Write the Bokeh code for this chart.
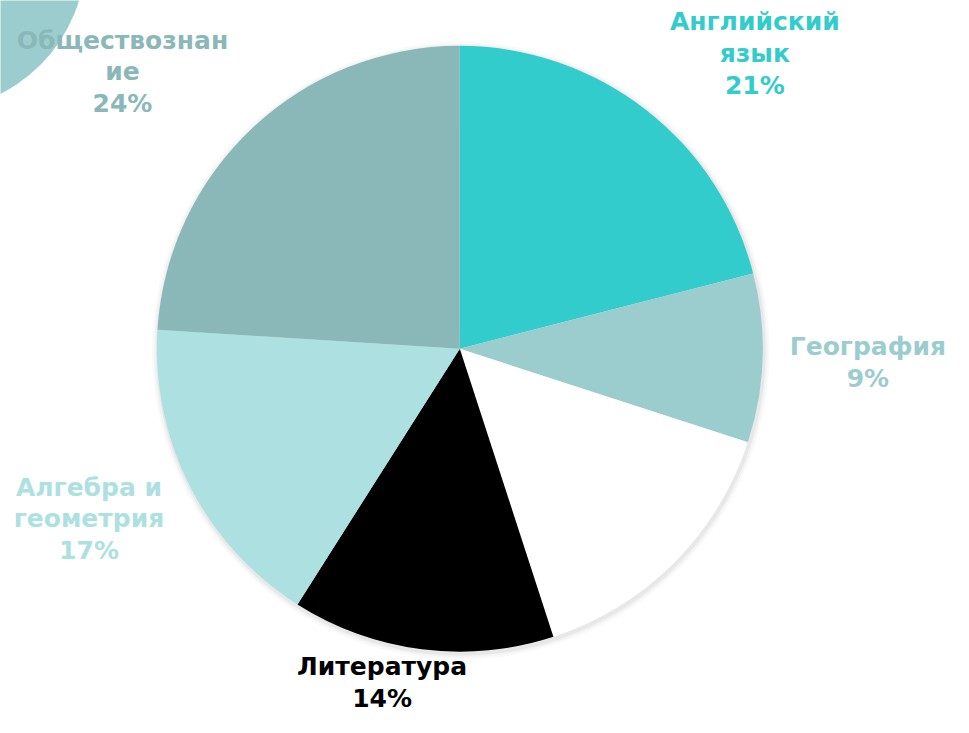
import numpy as np
from bokeh.plotting import figure
from bokeh.models import Range1d, ColumnDataSource
from bokeh.core.properties import value
from bokeh.embed import file_html
from bokeh.resources import INLINE

# data (clockwise from 12 o'clock)
subjects = ["Английский язык", "География", "", "Литература", "Алгебра и геометрия", "Обществознание"]
shares = [21, 9, 15, 14, 17, 24]
colors = ["#33CCCC", "#9CCDCE", "#FFFFFF", "#000000", "#ADE1E1", "#8AB8B8"]
label_texts = ["Английский\nязык\n21%", "География\n9%", "", "Литература\n14%", "Алгебра и\nгеометрия\n17%", "Обществознан\nие\n24%"]
label_colors = ["#33CCCC", "#9CCDCE", "#FFFFFF", "#000000", "#ADE1E1", "#8AB8B8"]
# label centres in reference pixels
label_x = [767, 882, 0, 388, 90, 124]
label_y = [54, 370, 0, 697, 530, 73]

W, H = 953, 717
RW, RH = 969, 733
cx, cy_px, R = 467, 356, 308

p = figure(width=W, height=H, output_backend="svg", toolbar_location=None,
           x_range=Range1d(0, RW), y_range=Range1d(0, RH),
           min_border=0, background_fill_color="white", border_fill_color="white")
p.axis.visible = False
p.grid.visible = False
p.outline_line_color = None

# decorative circle top-left
p.circle(x=[-72], y=[RH + 47], radius=159, fill_color="#9CCDCE", line_color=None)

cy = RH - cy_px
# soft shadow
for r, a in [(R + 6, 0.04), (R + 4, 0.06), (R + 2, 0.1)]:
    p.circle(x=[cx + 1], y=[cy - 2], radius=r, fill_color="#888888", fill_alpha=a, line_color=None)

vals = np.array(shares, dtype=float)
frac = vals / vals.sum()
cum = np.concatenate([[0], np.cumsum(frac)])
start = np.deg2rad(90 - cum[:-1] * 360)
end = np.deg2rad(90 - cum[1:] * 360)
src = ColumnDataSource(dict(start=start, end=end, color=colors))
p.wedge(x=cx, y=cy, radius=R, start_angle="start", end_angle="end", direction="clock",
        fill_color="color", line_color=None, source=src)

lx, ly, lt, lc = [], [], [], []
for x, y, t, c in zip(label_x, label_y, label_texts, label_colors):
    if t:
        lx.append(x); ly.append(RH - y); lt.append(t); lc.append(c)
lsrc = ColumnDataSource(dict(x=lx, y=ly, text=lt, color=lc))
p.text(x="x", y="y", text="text", text_color="color", source=lsrc,
       text_font=value("DejaVu Sans"), text_font_style="bold", text_font_size="25px",
       text_align="center", text_baseline="middle", text_line_height=1.1)

open("out.html", "w").write(file_html(p, INLINE))
